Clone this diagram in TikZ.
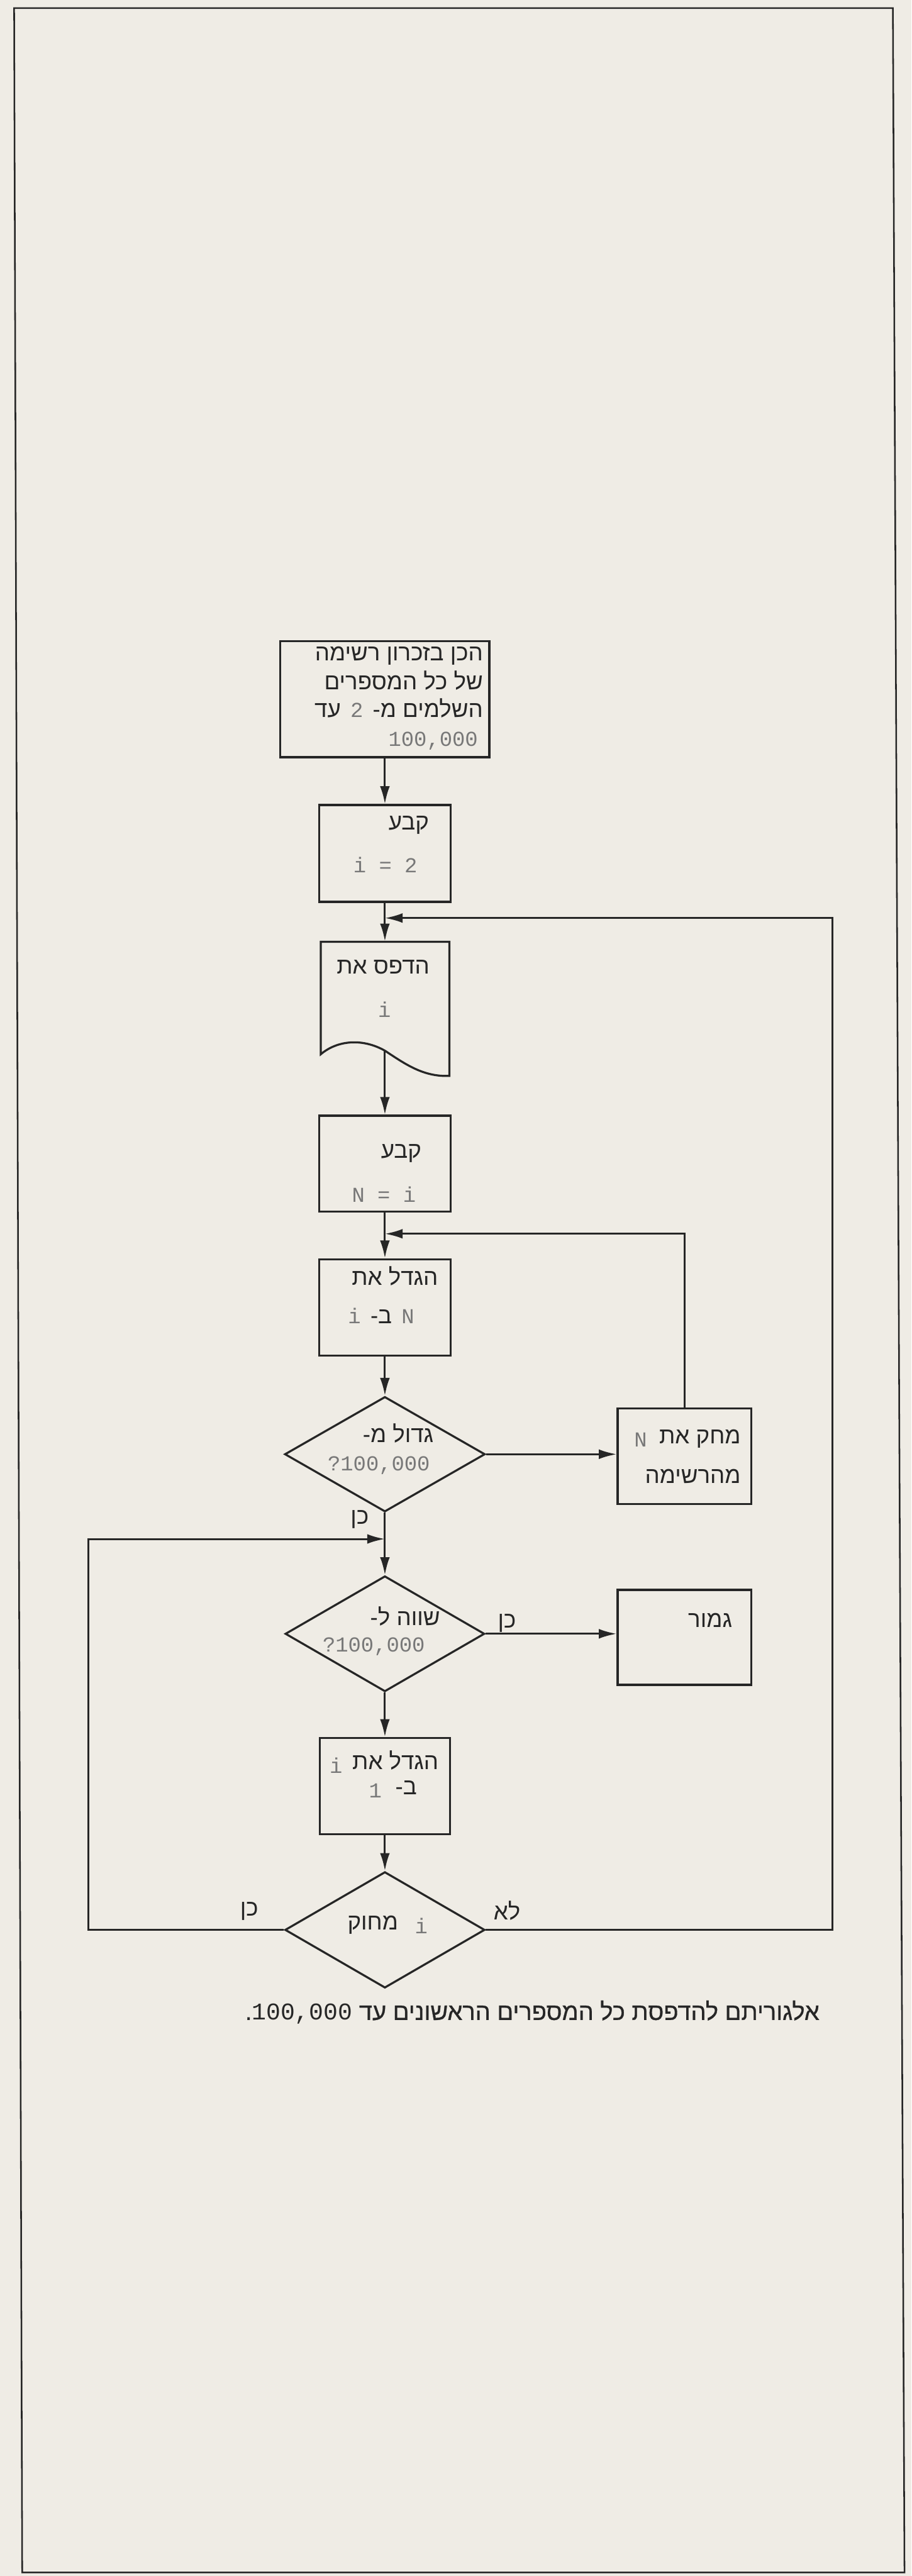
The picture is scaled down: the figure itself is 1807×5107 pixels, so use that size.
\documentclass[tikz,border=0pt]{standalone}
\usepackage{fontspec}
\usetikzlibrary{arrows.meta,shapes.geometric}
\TeXXeTstate=1
\newfontfamily\hebfont[Script=Hebrew]{Liberation Sans}
\newfontfamily\hebcapfont[Script=Hebrew,FakeBold=0.7]{Liberation Sans}
\newfontfamily\numfont{Liberation Mono}
\definecolor{paper}{RGB}{239,236,229}
\definecolor{ink}{RGB}{38,38,38}
\definecolor{faint}{RGB}{120,120,120}
\tikzset{
  box/.style={draw=ink, line width=1.15pt, rectangle, inner sep=0pt},
  dia/.style={draw=ink, line width=1.15pt, diamond, inner sep=0pt},
  conn/.style={draw=ink, line width=1.05pt},
  arr/.style={conn, -{Latex[length=10pt,width=5.5pt]}},
  heb/.style={font=\hebfont\fontsize{13}{16}\selectfont, text=ink, inner sep=0pt},
  num/.style={font=\numfont\fontsize{12}{15}\selectfont, text=faint, inner sep=0pt},
  captext/.style={font=\hebcapfont\fontsize{13.5}{16}\selectfont, text=ink, inner sep=0pt},
}
\begin{document}
\begin{tikzpicture}[x=0.01cm,y=-0.01cm]
\useasboundingbox (0,0) rectangle (1807,5107);
\fill[paper] (0,0) rectangle (1807,5107);
\draw[ink, line width=0.9pt] (28,16) -- (1770,16) -- (1793,5100) -- (44,5100) -- cycle;

% shapes
\node[box, minimum width=4.14cm, minimum height=2.30cm] (prep) at (763,1386) {};
\node[box, minimum width=2.60cm, minimum height=1.92cm] (set1) at (763,1692) {};
\node[inner sep=0pt, minimum width=2.55cm, minimum height=2.16cm] (print) at (763,1975) {};
\draw[ink, line width=1.15pt] (636,2090) -- (636,1867) -- (891,1867) -- (891,2133)
  .. controls (839,2135) and (804,2110) .. (763,2083)
  .. controls (719,2058) and (669,2062) .. (636,2090) -- cycle;
\node[box, minimum width=2.60cm, minimum height=1.90cm] (set2) at (763,2307) {};
\node[box, minimum width=2.60cm, minimum height=1.91cm] (inc) at (763,2592) {};
\node[dia, minimum width=3.97cm, minimum height=2.28cm] (d1) at (763,2883) {};
\node[box, minimum width=2.65cm, minimum height=1.90cm] (del) at (1357,2887) {};
\node[dia, minimum width=3.95cm, minimum height=2.29cm] (d2) at (763,3239) {};
\node[box, minimum width=2.65cm, minimum height=1.88cm] (done) at (1357,3246) {};
\node[box, minimum width=2.58cm, minimum height=1.91cm] (inci) at (763,3541) {};
\node[dia, minimum width=3.96cm, minimum height=2.30cm] (d3) at (763,3826) {};

\coordinate (j1) at (763,1820);
\coordinate (j2) at (763,2446);
\coordinate (j3) at (763,3051);
\coordinate (rloop) at (1650,1820);
\coordinate (lloop) at (175,3051);

% connectors
\draw[arr] (prep.south) -- (set1.north);
\draw[arr] (set1.south) -- (print.north);
\draw[arr] (print.south) -- (set2.north);
\draw[arr] (set2.south) -- (inc.north);
\draw[arr] (inc.south) -- (d1.north);
\draw[arr] (d1.east) -- (d1.east -| del.west);
\draw[arr] (del.north) |- (j2);
\draw[arr] (d1.south) -- (d2.north);
\draw[arr] (d2.east) -- (d2.east -| done.west);
\draw[arr] (d2.south) -- (inci.north);
\draw[arr] (inci.south) -- (d3.north);
\draw[arr] (d3.west) -| (lloop) -- (j3);
\draw[arr] (d3.east) -| (rloop) -- (j1);

% texts: box 1
\node[heb, anchor=mid east] (p1) at (958,1302) {\beginR הכן בזכרון רשימה\endR};
\node[heb, anchor=mid east] (p2) at (958,1359) {\beginR של כל המספרים\endR};
\node[heb, anchor=mid east] (p3a) at (958,1415) {\beginR השלמים מ-\endR};
\node[num, anchor=mid east] (p3b) at ([xshift=-5pt]p3a.mid west) {2};
\node[heb, anchor=mid east] (p3c) at ([xshift=-5pt]p3b.mid west) {עד};
\node[num, anchor=mid east] (p4) at (948,1472) {100,000};

% set i = 2
\node[heb, anchor=mid east] (s1a) at (851,1638) {קבע};
\node[num] (s1b) at (764,1715) {i = 2};

% print
\node[heb, anchor=mid east] (pr1) at (852,1923) {\beginR הדפס את\endR};
\node[num] (pr2) at (762,2002) {i};

% set N = i
\node[heb, anchor=mid east] (s2a) at (836,2289) {קבע};
\node[num] (s2b) at (761,2368) {N = i};

% increase N by i
\node[heb, anchor=mid east] (n1) at (869,2540) {\beginR הגדל את\endR};
\node[num, anchor=mid east] (n2a) at (822,2616) {N};
\node[heb, anchor=mid east] (n2b) at ([xshift=-5pt]n2a.mid west) {ב-};
\node[num, anchor=mid east] (n2c) at ([xshift=-5pt]n2b.mid west) {i};

% diamond 1
\node[heb, anchor=mid east] (q1) at (860,2852) {\beginR גדול מ-\endR};
\node[num, anchor=mid east] (q2) at (853,2908) {?100,000};

% delete N
\node[heb, anchor=mid east] (r1) at (1469,2854) {\beginR מחק את\endR};
\node[num] (r1b) at (1270,2854) {N};
\node[heb, anchor=mid east] (r2) at (1469,2933) {מהרשימה};

% diamond 2
\node[heb, anchor=mid east] (q3) at (873,3215) {\beginR שווה ל-\endR};
\node[num, anchor=mid east] (q4) at (843,3267) {?100,000};

\node[heb, anchor=mid east] (g1) at (1452,3218) {גמור};

% increase i by 1
\node[heb, anchor=mid east] (m1) at (870,3500) {\beginR הגדל את\endR};
\node[num] (m1b) at (666,3500) {i};
\node[heb, anchor=mid east] (m2) at (827,3550) {ב-};
\node[num] (m2b) at (744,3550) {1};

% diamond 3
\node[heb, anchor=mid east] (q5) at (790,3818) {מחוק};
\node[num] (q5b) at (835,3818) {i};

% branch labels
\node[heb] (y1) at (713,3012) {כן};
\node[heb] (y2) at (1005,3218) {כן};
\node[heb] (y3) at (494,3789) {כן};
\node[heb] (n3) at (1005,3788) {לא};

% caption
\node[captext, anchor=mid east] (capt) at (1625,3997) {\beginR אלגוריתם להדפסת כל המספרים הראשונים עד \beginL{\numfont 100,000}\endL.\endR};
\end{tikzpicture}
\end{document}
